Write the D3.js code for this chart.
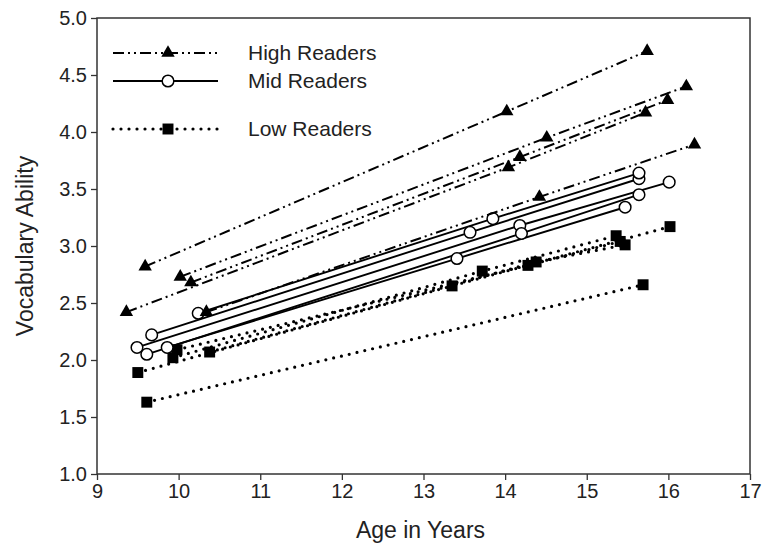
<!DOCTYPE html>
<html>
<head>
<meta charset="utf-8">
<script src="https://cdn.jsdelivr.net/npm/d3@7"></script>
<style>
  body { margin: 0; background: #fff; }
  svg { font-family: 'Liberation Sans', Arial, sans-serif; }
</style>
</head>
<body>
<svg id="chart" width="762" height="546"></svg>
<script>
'use strict';
// ages / scores per reader, one array per line
const HIGH_AGES = [[9.59, 14.02, 15.74], [10.02, 14.51, 16.22], [10.15, 14.18, 15.99], [9.36, 14.04, 15.72], [10.34, 14.42, 16.32]];
const HIGH_VALUES = [[2.82, 4.18, 4.71], [2.73, 3.95, 4.40], [2.68, 3.78, 4.28], [2.42, 3.69, 4.17], [2.42, 3.43, 3.89]];
const MID_AGES = [[9.67, 13.57, 15.64], [10.24, 13.85, 15.64], [9.49, 14.18, 16.01], [9.61, 14.20, 15.64], [9.86, 13.41, 15.47]];
const MID_VALUES = [[2.22, 3.12, 3.59], [2.41, 3.24, 3.64], [2.11, 3.18, 3.56], [2.05, 3.11, 3.45], [2.11, 2.89, 3.34]];
const LOW_AGES = [[9.50, 13.35, 16.02], [9.93, 13.72, 15.36], [9.98, 14.28, 15.41], [10.38, 14.38, 15.47], [9.61, 15.69]];
const LOW_VALUES = [[1.89, 2.65, 3.17], [2.02, 2.78, 3.09], [2.09, 2.83, 3.04], [2.07, 2.86, 3.01], [1.63, 2.66]];
const X_TICKS = [9, 10, 11, 12, 13, 14, 15, 16, 17];
const Y_TICKS = [1.0, 1.5, 2.0, 2.5, 3.0, 3.5, 4.0, 4.5, 5.0];
const GROUP_NAMES = ['High Readers', 'Mid Readers', 'Low Readers'];

const GROUPS = [
  { name: GROUP_NAMES[0], ages: HIGH_AGES, values: HIGH_VALUES, dash: '11,4,2,4,2,4', width: 2, cap: 'butt', marker: 'triangle' },
  { name: GROUP_NAMES[1], ages: MID_AGES, values: MID_VALUES, dash: null, width: 1.9, cap: 'butt', marker: 'circle' },
  { name: GROUP_NAMES[2], ages: LOW_AGES, values: LOW_VALUES, dash: '0,8', width: 3.2, cap: 'round', marker: 'square' },
];

const svg = d3.select('#chart');
const margin = { top: 18, right: 12, bottom: 72, left: 97 };
const width = 762 - margin.left - margin.right;
const height = 546 - margin.top - margin.bottom;

const x = d3.scaleLinear().domain([9, 17]).range([0, width]);
const y = d3.scaleLinear().domain([1, 5]).range([height, 0]);

const g = svg.append('g').attr('transform', `translate(${margin.left},${margin.top})`);

function drawMarker(sel, kind) {
  if (kind === 'circle') {
    sel.append('circle').attr('r', 5.8).attr('fill', '#fff').attr('stroke', '#000').attr('stroke-width', 1.5);
  } else if (kind === 'triangle') {
    sel.append('path').attr('d', d3.symbol(d3.symbolTriangle, 78)()).attr('fill', '#000');
  } else {
    sel.append('path').attr('d', d3.symbol(d3.symbolSquare, 120)()).attr('fill', '#000');
  }
}

const line = d3.line().x((d) => x(d[0])).y((d) => y(d[1]));

// draw low first so high lines sit on top like the original
GROUPS.slice().reverse().forEach((grp) => {
  const series = grp.ages.map((a, i) => a.map((age, j) => [age, grp.values[i][j]]));
  const layer = g.append('g');
  layer.selectAll('path.l')
    .data(series)
    .enter()
    .append('path')
    .attr('class', 'l')
    .attr('d', line)
    .attr('fill', 'none')
    .attr('stroke', '#000')
    .attr('stroke-width', grp.width)
    .attr('stroke-linecap', grp.cap)
    .attr('stroke-dasharray', grp.dash);
  series.forEach((s) => {
    s.forEach((p) => {
      drawMarker(layer.append('g').attr('transform', `translate(${x(p[0])},${y(p[1])})`), grp.marker);
    });
  });
});

// axes
const axisColor = '#333';
const xAxis = g.append('g').attr('transform', `translate(0,${height})`)
  .call(d3.axisBottom(x).tickValues(X_TICKS).tickSizeInner(6).tickSizeOuter(0).tickPadding(4).tickFormat(d3.format('d')));
const yAxis = g.append('g')
  .call(d3.axisLeft(y).tickValues(Y_TICKS).tickSizeInner(6).tickSizeOuter(0).tickPadding(4).tickFormat(d3.format('.1f')));
[xAxis, yAxis].forEach((ax) => {
  ax.select('.domain').remove();
  ax.selectAll('.tick line').attr('stroke', axisColor).attr('stroke-width', 1.3);
  ax.selectAll('.tick text').attr('fill', '#222').style('font-size', '20px');
});

// frame
g.append('rect')
  .attr('width', width).attr('height', height)
  .attr('fill', 'none').attr('stroke', axisColor).attr('stroke-width', 1.5);

// axis titles
svg.append('text')
  .attr('x', margin.left + width / 2 - 3).attr('y', 538)
  .attr('text-anchor', 'middle').attr('fill', '#222')
  .style('font-size', '23px').text('Age in Years');
svg.append('text')
  .attr('transform', `translate(33,${margin.top + height / 2}) rotate(-90)`)
  .attr('text-anchor', 'middle').attr('fill', '#222')
  .style('font-size', '23px').text('Vocabulary Ability');

// legend
const legendY = [53, 81, 129];
GROUPS.forEach((grp, i) => {
  const lg = svg.append('g').attr('transform', `translate(0,${legendY[i]})`);
  lg.append('line')
    .attr('x1', 113).attr('x2', 218).attr('y1', 0).attr('y2', 0)
    .attr('stroke', '#000').attr('stroke-width', grp.width)
    .attr('stroke-linecap', grp.cap).attr('stroke-dasharray', grp.dash);
  drawMarker(lg.append('g').attr('transform', 'translate(168,0)'), grp.marker);
  lg.append('text')
    .attr('x', 248).attr('y', 0).attr('dy', '0.35em')
    .attr('fill', '#222').style('font-size', '21px').text(grp.name);
});
</script>
</body>
</html>
